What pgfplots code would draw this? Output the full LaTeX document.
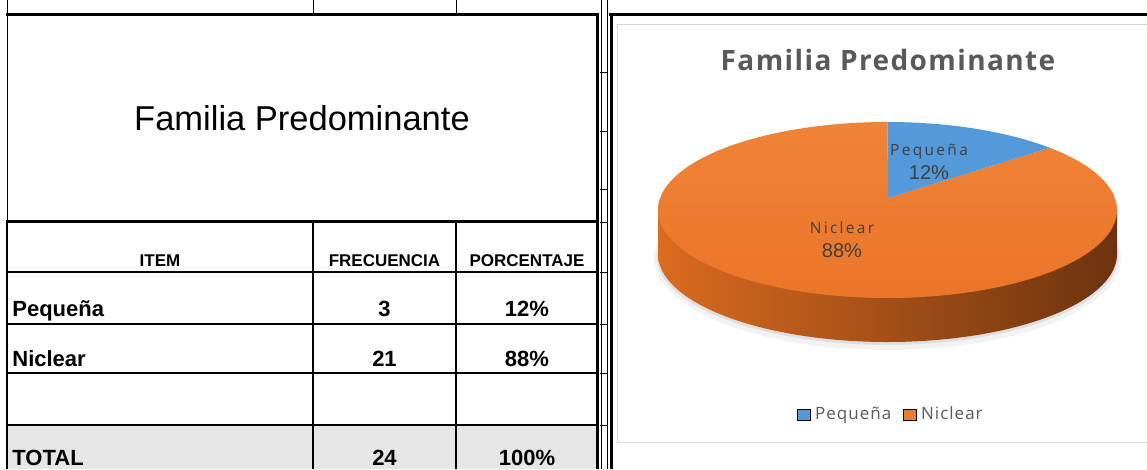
\documentclass[border=0pt]{standalone}
\usepackage{fontspec}
\setmainfont{Liberation Sans}
\newfontfamily\pielabel[LetterSpace=15]{Open Sans}
\newfontfamily\legfont[LetterSpace=6]{Open Sans}
\newfontfamily\ctitle[LetterSpace=5]{Open Sans}
\usepackage{pgfplots}
\usepackage{pgfplotstable}
\pgfplotsset{compat=1.18}

\definecolor{pieblue}{HTML}{5499DA}
\definecolor{pieorange}{HTML}{ED7B2F}
\definecolor{pieorangeL}{HTML}{EF8338}
\definecolor{pieorangeD}{HTML}{EB7528}
\definecolor{sideL}{HTML}{DA6B1F}
\definecolor{sideM}{HTML}{BC5816}
\definecolor{sideR}{HTML}{6C330F}
\definecolor{txtgray}{HTML}{595959}
\definecolor{lbl}{HTML}{404040}
\definecolor{grid}{HTML}{DADADA}
\definecolor{frame}{HTML}{D9D9D9}
\definecolor{totfill}{HTML}{E6E6E6}

\pgfplotstableread{
item value
Pequena 3
Niclear 21
}\piedata
\pgfplotstablegetelem{0}{value}\of\piedata
\pgfmathsetmacro\va{\pgfplotsretval}
\pgfplotstablegetelem{1}{value}\of\piedata
\pgfmathsetmacro\vb{\pgfplotsretval}
\pgfmathsetmacro\angA{360*\va/(\va+\vb)}

\def\cx{887.5}
\def\cy{210}
\def\rx{229.5}
\def\ry{88}
\def\dd{44}

\begin{document}
\begin{tikzpicture}
\begin{axis}[
  name=main,
  scale only axis, width=573.5pt, height=234.5pt,
  xmin=0, xmax=1147, ymin=0, ymax=469, y dir=reverse,
  hide axis,
  legend image code/.code={\fill[#1] (0pt,-2.8pt) rectangle (6.5pt,2.8pt);},
  legend style={at={(0.7777,0.1151)}, anchor=center, draw=none, fill=none,
    legend columns=2, font=\legfont\fontsize{8.5}{10}\selectfont, text=txtgray,
    /tikz/every even column/.append style={column sep=4pt}},
  legend cell align=left,
]
% ---------- spreadsheet grid (light) ----------
\addplot[grid, line width=0.5pt, forget plot] coordinates {(7,0) (7,221)};
\addplot[grid, line width=0.5pt, forget plot] coordinates {(313,0) (313,14)};
\addplot[grid, line width=0.5pt, forget plot] coordinates {(456,0) (456,14)};
\addplot[grid, line width=0.5pt, forget plot] coordinates {(601,0) (601,469)};
\addplot[grid, line width=0.5pt, forget plot] coordinates {(607,0) (607,469)};
\addplot[grid, line width=0.5pt, forget plot] coordinates {(600,72) (608,72)};
\addplot[grid, line width=0.5pt, forget plot] coordinates {(600,131) (608,131)};
\addplot[grid, line width=0.5pt, forget plot] coordinates {(600,189) (608,189)};
\addplot[grid, line width=0.5pt, forget plot] coordinates {(600,222) (608,222)};
\addplot[grid, line width=0.5pt, forget plot] coordinates {(600,272) (608,272)};
\addplot[grid, line width=0.5pt, forget plot] coordinates {(600,324) (608,324)};
\addplot[grid, line width=0.5pt, forget plot] coordinates {(600,373) (608,373)};
\addplot[grid, line width=0.5pt, forget plot] coordinates {(600,425) (608,425)};
% ---------- table ----------
\addplot[fill=totfill, draw=none, forget plot] coordinates {(7,425) (597,425) (597,469) (7,469)} -- cycle;
\addplot[black, line width=1.5pt, forget plot] coordinates {(6,14.5) (599,14.5)};
\addplot[black, line width=1.5pt, forget plot] coordinates {(6,221) (599,221)};
\addplot[black, line width=1pt, forget plot] coordinates {(7,272) (597,272)};
\addplot[black, line width=1pt, forget plot] coordinates {(7,324) (597,324)};
\addplot[black, line width=1pt, forget plot] coordinates {(7,373) (597,373)};
\addplot[black, line width=1pt, forget plot] coordinates {(7,425) (597,425)};
\addplot[black, line width=1pt, forget plot] coordinates {(7,221) (7,469)};
\addplot[black, line width=1pt, forget plot] coordinates {(313,221) (313,469)};
\addplot[black, line width=1pt, forget plot] coordinates {(456,221) (456,469)};
\addplot[black, line width=1.5pt, forget plot] coordinates {(597.5,14) (597.5,469)};
% ---------- chart frame ----------
\addplot[black, line width=1.5pt, forget plot] coordinates {(609,14.5) (1147,14.5)};
\addplot[black, line width=1.5pt, forget plot] coordinates {(611,14) (611,469)};
\addplot[frame, line width=0.5pt, forget plot] coordinates {(1147,25) (617,25) (617,442) (1147,442)};
% ---------- pie shadow ----------
\addplot[domain=0:360, samples=120, fill=black, opacity=0.05, draw=none, forget plot]
  ({\cx+(\rx+4)*sin(x)}, {\cy+\dd+4-(\ry+4)*cos(x)}) -- cycle;
\addplot[domain=0:360, samples=120, fill=black, opacity=0.08, draw=none, forget plot]
  ({\cx+(\rx+1.5)*sin(x)}, {\cy+\dd+2-(\ry+1)*cos(x)}) -- cycle;
% ---------- pie side ----------
\addplot[domain=90:270, samples=120, draw=none, left color=sideL, middle color=sideM, right color=sideR, forget plot]
  ({\cx+\rx*sin(x)}, {\cy+\dd-\ry*cos(x)}) -- (axis cs:{\cx-\rx},\cy) -- (axis cs:{\cx+\rx},\cy) -- cycle;
% ---------- pie top ----------
\addplot[domain=\angA:360, samples=160, draw=none, top color=pieorangeL, bottom color=pieorangeD, forget plot]
  ({\cx+\rx*sin(x)}, {\cy-\ry*cos(x)}) -- (axis cs:888,198) -- cycle;
\addplot[domain=0:\angA, samples=40, draw=none, fill=pieblue, forget plot]
  ({\cx+\rx*sin(x)}, {\cy-\ry*cos(x)}) -- (axis cs:888,198) -- cycle;
% ---------- legend ----------
\addlegendimage{fill=pieblue}
\addlegendentry{Pequeña}
\addlegendimage{fill=pieorange}
\addlegendentry{Niclear}
% ---------- texts: table ----------
\node[anchor=base, inner sep=0] at (302,130) {\fontsize{17.25}{20}\selectfont Familia Predominante};
\node[anchor=base, inner sep=0] at (160,266) {\fontsize{8.5}{10}\selectfont\bfseries ITEM};
\node[anchor=base, inner sep=0] at (384.5,266) {\fontsize{8.5}{10}\selectfont\bfseries FRECUENCIA};
\node[anchor=base, inner sep=0] at (527,266) {\fontsize{8.5}{10}\selectfont\bfseries PORCENTAJE};
\node[anchor=base west, inner sep=0] at (12,316.7) {\fontsize{11}{13}\selectfont\bfseries Pequeña};
\node[anchor=base, inner sep=0] at (384.5,316.7) {\fontsize{11}{13}\selectfont\bfseries 3};
\node[anchor=base, inner sep=0] at (527,316.7) {\fontsize{11}{13}\selectfont\bfseries 12\%};
\node[anchor=base west, inner sep=0] at (12,366) {\fontsize{11}{13}\selectfont\bfseries Niclear};
\node[anchor=base, inner sep=0] at (384.5,366) {\fontsize{11}{13}\selectfont\bfseries 21};
\node[anchor=base, inner sep=0] at (527,366) {\fontsize{11}{13}\selectfont\bfseries 88\%};
\node[anchor=base west, inner sep=0] at (12,465.5) {\fontsize{11}{13}\selectfont\bfseries TOTAL};
\node[anchor=base, inner sep=0] at (384.5,465.5) {\fontsize{11}{13}\selectfont\bfseries 24};
\node[anchor=base, inner sep=0] at (527,465.5) {\fontsize{11}{13}\selectfont\bfseries 100\%};
% ---------- texts: chart ----------
\node[inner sep=0, text=txtgray] at (888,60) {\ctitle\bfseries\fontsize{14}{16}\selectfont Familia Predominante};
\node[inner sep=0, text=lbl, align=center] at (929,162) {\pielabel\fontsize{7.75}{10.8}\selectfont Pequeña\\12\%};
\node[inner sep=0, text=lbl, align=center] at (842,240) {\pielabel\fontsize{7.75}{10.2}\selectfont Niclear\\88\%};
\end{axis}
\pgfresetboundingbox
\path[use as bounding box] (main.south west) rectangle (main.north east);
\end{tikzpicture}
\end{document}
